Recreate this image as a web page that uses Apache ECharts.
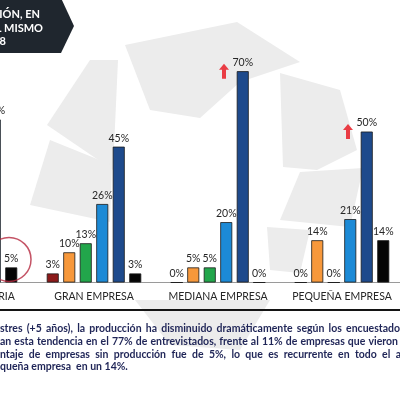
<!DOCTYPE html>
<html>
<head>
<meta charset="utf-8">
<script src="https://cdn.jsdelivr.net/npm/echarts@6/dist/echarts.min.js"></script>
<style>
html,body{margin:0;padding:0;background:#fff;overflow:hidden;width:400px;height:394px;}
#wrap{position:relative;width:400px;height:394px;overflow:hidden;}
#chart{position:absolute;left:-92px;top:0;width:496px;height:394px;}
</style>
</head>
<body>
<div id="wrap"><div id="chart"></div></div>
<script>
// ---- data ----
const categories = ['TOTAL INDUSTRIA', 'GRAN EMPRESA', 'MEDIANA EMPRESA', 'PEQUEÑA EMPRESA'];
const seriesNames = ['Aumentó mucho', 'Aumentó', 'Se mantuvo', 'Disminuyó', 'Disminuyó mucho', 'Sin producción'];
const vDarkRed   = [3, 3, 0, 0];
const vOrange    = [8, 10, 5, 14];
const vGreen     = [7, 13, 5, 0];
const vLightBlue = [23, 26, 20, 21];
const vDarkBlue  = [54, 45, 70, 50];
const vBlack     = [5, 3, 0, 14];
const arrowMarks = [['MEDIANA EMPRESA', 70], ['PEQUEÑA EMPRESA', 50]];
const circleMarks = [['TOTAL INDUSTRIA', 5]];
const titleLines = ['CIÓN, EN', 'L MISMO', '8'];
const noteLines = [
  'stres (+5 años), la producción ha disminuido dramáticamente según los encuestado',
  'an esta tendencia en el  77% de entrevistados, frente al 11% de empresas que vieron',
  'ntaje de empresas sin producción fue de 5%, lo que es recurrente en todo el a',
  'queña empresa  en un 14%.'
];

// ---- styles ----
const colors = ['#8c1a1a', '#f7983b', '#22a64b', '#1c8ad6', '#1e4a8c', '#050505'];
const values = [vDarkRed, vOrange, vGreen, vLightBlue, vDarkBlue, vBlack];
const FONT = 'Lato';
const SHIFT = 92; // canvas is shifted left by this many px (chart cropped on the left)

const chart = echarts.init(document.getElementById('chart'), null, {renderer: 'canvas'});

const series = values.map((vals, i) => ({
  name: seriesNames[i],
  type: 'bar',
  data: vals,
  barWidth: 12,
  barGap: '37.5%',
  itemStyle: {color: colors[i], borderColor: '#1b1b1b', borderWidth: 0.8},
  label: {
    show: true, position: 'top', distance: 3,
    formatter: '{c}%', color: '#262626', fontFamily: FONT, fontSize: 10.5
  },
  z: 5
}));

series.push({
  type: 'scatter',
  data: arrowMarks,
  symbol: 'path://M5,0 L10,6 L7,6 L7,15 L3,15 L3,6 L0,6 Z',
  symbolSize: [10, 15],
  symbolOffset: [6, 0],
  itemStyle: {color: '#e8101a'},
  silent: true, z: 6
});
series.push({
  type: 'scatter',
  data: circleMarks,
  symbol: 'circle',
  symbolSize: 44,
  symbolOffset: [39, -8],
  itemStyle: {color: 'rgba(0,0,0,0)', borderColor: '#b5283f', borderWidth: 1.5},
  silent: true, z: 6
});

// ---- decorations (in visible-page coordinates, group shifted) ----
const measCtx = document.createElement('canvas').getContext('2d');
const noteFont = 'bold 10.5px ' + FONT;
measCtx.font = noteFont;
const noteY = [329, 342, 355, 367];
const noteRight = [400, 398, 401, null];
const children = [];

const wm = [
  [[125,45],[237,22],[300,62],[240,82],[200,118],[150,110]],
  [[90,60],[118,60],[113,170],[47,125]],
  [[50,140],[112,165],[110,222],[30,205]],
  [[280,73],[340,90],[357,150],[317,170],[283,167]],
  [[300,172],[363,168],[350,227],[280,220]],
  [[267,227],[310,230],[300,273],[270,270]],
  [[200,40],[250,40],[235,80],[205,60]],
  [[135,300],[270,300],[240,350],[170,345]]
];
wm.forEach(p => children.push({type: 'polygon', shape: {points: p}, style: {fill: '#ececec'}, z: -10, silent: true}));

children.push({
  type: 'polygon',
  shape: {points: [[-5, -2], [61, -2], [74, 26], [61, 53], [-5, 53]]},
  style: {fill: '#1f262e'}, z: 20
});
const titleRight = [40, 43, 6];
const titleY = [14, 28, 41];
titleLines.forEach((t, i) => children.push({
  type: 'text', x: titleRight[i], y: titleY[i], z: 21,
  style: {text: t, fill: '#ffffff', font: 'bold 11px ' + FONT, textAlign: 'right', textVerticalAlign: 'middle'}
}));

children.push({type: 'rect', shape: {x: 0, y: 309, width: 400, height: 2}, style: {fill: '#141414'}, z: 20});

noteLines.forEach((line, i) => {
  if (noteRight[i] == null) {
    children.push({type: 'text', x: 0, y: noteY[i], z: 20,
      style: {text: line, fill: '#1f2557', font: noteFont, textVerticalAlign: 'middle'}});
    return;
  }
  const words = line.split(/\s+/).filter(w => w.length);
  const widths = words.map(w => measCtx.measureText(w).width);
  const total = widths.reduce((a, b) => a + b, 0);
  const gap = (noteRight[i] - total) / (words.length - 1);
  let x = 0;
  words.forEach((w, k) => {
    children.push({type: 'text', x: x, y: noteY[i], z: 20,
      style: {text: w, fill: '#1f2557', font: noteFont, textVerticalAlign: 'middle'}});
    x += widths[k] + gap;
  });
});

chart.setOption({
  animation: false,
  backgroundColor: '#ffffff',
  grid: {left: 0, right: 0, top: 41, bottom: 111.5, containLabel: false},
  xAxis: {
    type: 'category',
    data: categories,
    axisLine: {show: true, lineStyle: {color: '#9a9a9a', width: 1}},
    axisTick: {show: false},
    axisLabel: {color: '#262626', fontFamily: FONT, fontSize: 10.5, margin: 9, interval: 0}
  },
  yAxis: {type: 'value', min: 0, max: 80, show: false, splitLine: {show: false}},
  series: series,
  graphic: [{type: 'group', x: SHIFT, y: 0, children: children}]
});
</script>
</body>
</html>
